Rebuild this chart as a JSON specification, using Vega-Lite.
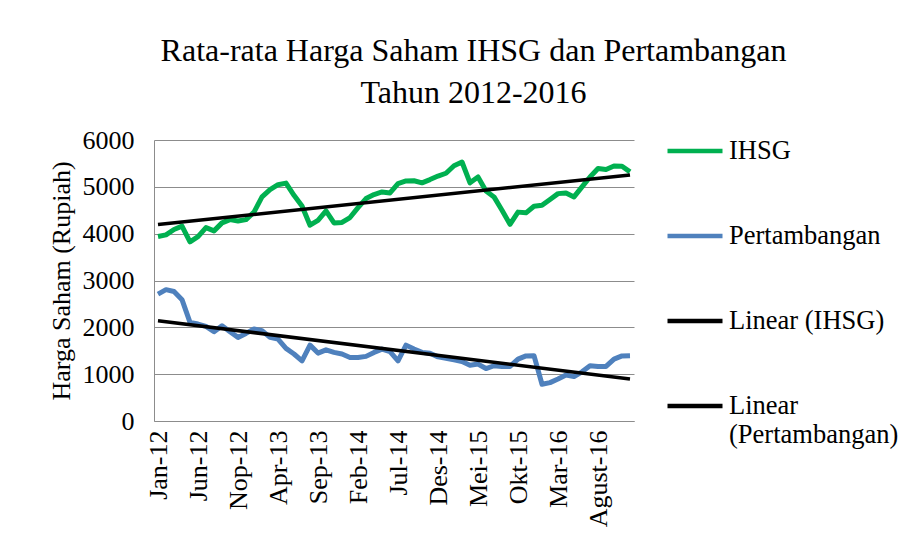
{
  "$schema": "https://vega.github.io/schema/vega-lite/v6.json",
  "width": 480,
  "height": 281,
  "padding": {"left": 47, "top": 35, "right": 5, "bottom": 5},
  "background": "white",
  "config": {"font": "Liberation Serif, Times New Roman, serif", "view": {"stroke": null}},
  "title": {
    "text": ["Rata-rata Harga Saham IHSG dan Pertambangan", "Tahun 2012-2016"],
    "fontSize": 32,
    "fontWeight": "normal",
    "font": "Liberation Serif, Times New Roman, serif",
    "color": "black",
    "anchor": "middle",
    "frame": "bounds",
    "lineHeight": 42,
    "offset": 11
  },
  "datasets": {
    "harga": [
      {"bulan": "Jan-12", "IHSG": 3940, "Pertambangan": 2710},
      {"bulan": "Feb-12", "IHSG": 3975, "Pertambangan": 2805},
      {"bulan": "Mar-12", "IHSG": 4090, "Pertambangan": 2765},
      {"bulan": "Apr-12", "IHSG": 4160, "Pertambangan": 2590},
      {"bulan": "Mei-12", "IHSG": 3825, "Pertambangan": 2105},
      {"bulan": "Jun-12", "IHSG": 3935, "Pertambangan": 2070},
      {"bulan": "Jul-12", "IHSG": 4130, "Pertambangan": 2020},
      {"bulan": "Agust-12", "IHSG": 4060, "Pertambangan": 1905},
      {"bulan": "Sep-12", "IHSG": 4230, "Pertambangan": 2035},
      {"bulan": "Okt-12", "IHSG": 4300, "Pertambangan": 1905},
      {"bulan": "Nop-12", "IHSG": 4270, "Pertambangan": 1785},
      {"bulan": "Des-12", "IHSG": 4300, "Pertambangan": 1870},
      {"bulan": "Jan-13", "IHSG": 4460, "Pertambangan": 1965},
      {"bulan": "Feb-13", "IHSG": 4785, "Pertambangan": 1930},
      {"bulan": "Mar-13", "IHSG": 4940, "Pertambangan": 1785},
      {"bulan": "Apr-13", "IHSG": 5045, "Pertambangan": 1750},
      {"bulan": "Mei-13", "IHSG": 5080, "Pertambangan": 1550},
      {"bulan": "Jun-13", "IHSG": 4820, "Pertambangan": 1430},
      {"bulan": "Jul-13", "IHSG": 4590, "Pertambangan": 1285},
      {"bulan": "Agust-13", "IHSG": 4180, "Pertambangan": 1620},
      {"bulan": "Sep-13", "IHSG": 4285, "Pertambangan": 1450},
      {"bulan": "Okt-13", "IHSG": 4485, "Pertambangan": 1520},
      {"bulan": "Nop-13", "IHSG": 4230, "Pertambangan": 1465},
      {"bulan": "Des-13", "IHSG": 4240, "Pertambangan": 1430},
      {"bulan": "Jan-14", "IHSG": 4345, "Pertambangan": 1355},
      {"bulan": "Feb-14", "IHSG": 4555, "Pertambangan": 1355},
      {"bulan": "Mar-14", "IHSG": 4750, "Pertambangan": 1380},
      {"bulan": "Apr-14", "IHSG": 4835, "Pertambangan": 1465},
      {"bulan": "Mei-14", "IHSG": 4890, "Pertambangan": 1535},
      {"bulan": "Jun-14", "IHSG": 4870, "Pertambangan": 1480},
      {"bulan": "Jul-14", "IHSG": 5070, "Pertambangan": 1285},
      {"bulan": "Agust-14", "IHSG": 5125, "Pertambangan": 1620},
      {"bulan": "Sep-14", "IHSG": 5130, "Pertambangan": 1535},
      {"bulan": "Okt-14", "IHSG": 5085, "Pertambangan": 1465},
      {"bulan": "Nop-14", "IHSG": 5155, "Pertambangan": 1445},
      {"bulan": "Des-14", "IHSG": 5230, "Pertambangan": 1370},
      {"bulan": "Jan-15", "IHSG": 5290, "Pertambangan": 1340},
      {"bulan": "Feb-15", "IHSG": 5450, "Pertambangan": 1305},
      {"bulan": "Mar-15", "IHSG": 5530, "Pertambangan": 1270},
      {"bulan": "Apr-15", "IHSG": 5085, "Pertambangan": 1190},
      {"bulan": "Mei-15", "IHSG": 5210, "Pertambangan": 1215},
      {"bulan": "Jun-15", "IHSG": 4910, "Pertambangan": 1120},
      {"bulan": "Jul-15", "IHSG": 4785, "Pertambangan": 1180},
      {"bulan": "Agust-15", "IHSG": 4500, "Pertambangan": 1165},
      {"bulan": "Sep-15", "IHSG": 4200, "Pertambangan": 1165},
      {"bulan": "Okt-15", "IHSG": 4460, "Pertambangan": 1320},
      {"bulan": "Nop-15", "IHSG": 4445, "Pertambangan": 1390},
      {"bulan": "Des-15", "IHSG": 4585, "Pertambangan": 1395},
      {"bulan": "Jan-16", "IHSG": 4605, "Pertambangan": 785},
      {"bulan": "Feb-16", "IHSG": 4730, "Pertambangan": 820},
      {"bulan": "Mar-16", "IHSG": 4855, "Pertambangan": 895},
      {"bulan": "Apr-16", "IHSG": 4870, "Pertambangan": 980},
      {"bulan": "Mei-16", "IHSG": 4785, "Pertambangan": 950},
      {"bulan": "Jun-16", "IHSG": 5000, "Pertambangan": 1050},
      {"bulan": "Jul-16", "IHSG": 5210, "Pertambangan": 1180},
      {"bulan": "Agust-16", "IHSG": 5390, "Pertambangan": 1165},
      {"bulan": "Sep-16", "IHSG": 5370, "Pertambangan": 1165},
      {"bulan": "Okt-16", "IHSG": 5445, "Pertambangan": 1320},
      {"bulan": "Nop-16", "IHSG": 5440, "Pertambangan": 1390},
      {"bulan": "Des-16", "IHSG": 5320, "Pertambangan": 1395}
    ],
    "tren": [
      {"bulan": "Jan-12", "series": "Linear (IHSG)", "value": 4195},
      {"bulan": "Des-16", "series": "Linear (IHSG)", "value": 5255},
      {"bulan": "Jan-12", "series": "Linear (Pertambangan)", "value": 2140},
      {"bulan": "Des-16", "series": "Linear (Pertambangan)", "value": 895}
    ]
  },
  "encoding": {
    "x": {
      "field": "bulan",
      "type": "ordinal",
      "sort": null,
      "scale": {
        "type": "point",
        "padding": 0.5,
        "domain": ["Jan-12","Feb-12","Mar-12","Apr-12","Mei-12","Jun-12","Jul-12","Agust-12","Sep-12","Okt-12","Nop-12","Des-12",
                   "Jan-13","Feb-13","Mar-13","Apr-13","Mei-13","Jun-13","Jul-13","Agust-13","Sep-13","Okt-13","Nop-13","Des-13",
                   "Jan-14","Feb-14","Mar-14","Apr-14","Mei-14","Jun-14","Jul-14","Agust-14","Sep-14","Okt-14","Nop-14","Des-14",
                   "Jan-15","Feb-15","Mar-15","Apr-15","Mei-15","Jun-15","Jul-15","Agust-15","Sep-15","Okt-15","Nop-15","Des-15",
                   "Jan-16","Feb-16","Mar-16","Apr-16","Mei-16","Jun-16","Jul-16","Agust-16","Sep-16","Okt-16","Nop-16","Des-16"]
      },
      "axis": {
        "title": null,
        "values": ["Jan-12","Jun-12","Nop-12","Apr-13","Sep-13","Feb-14","Jul-14","Des-14","Mei-15","Okt-15","Mar-16","Agust-16"],
        "labelAngle": -90,
        "labelFontSize": 26,
        "labelColor": "black",
        "labelPadding": 9,
        "ticks": false,
        "grid": false,
        "domainColor": "#8c8c8c",
        "labelFont": "Liberation Serif, Times New Roman, serif"
      }
    },
    "y": {
      "field": "value",
      "type": "quantitative",
      "scale": {"domain": [0, 6000], "nice": false},
      "axis": {
        "title": "Harga Saham (Rupiah)",
        "titleFontSize": 26,
        "titleFontWeight": "normal",
        "titleColor": "black",
        "titleFont": "Liberation Serif, Times New Roman, serif",
        "titlePadding": 8,
        "labelFontSize": 26,
        "labelColor": "black",
        "labelFont": "Liberation Serif, Times New Roman, serif",
        "labelPadding": 20,
        "format": "d",
        "ticks": false,
        "values": [0, 1000, 2000, 3000, 4000, 5000, 6000],
        "gridColor": "#8c8c8c",
        "domainColor": "#8c8c8c"
      }
    },
    "color": {
      "field": "series",
      "type": "nominal",
      "scale": {
        "domain": ["IHSG", "Pertambangan", "Linear (IHSG)", "Linear (Pertambangan)"],
        "range": ["#00B050", "#4F81BD", "#000000", "#000000"]
      },
      "legend": {
        "title": null,
        "orient": "none",
        "legendX": 511,
        "legendY": -19,
        "padding": 0,
        "symbolType": "stroke",
        "symbolSize": 3025,
        "symbolStrokeWidth": 4.7,
        "labelFontSize": 26.5,
        "labelFont": "Liberation Serif, Times New Roman, serif",
        "labelColor": "black",
        "labelLimit": 400,
        "labelOffset": 4,
        "rowPadding": 41,
        "labelExpr": "datum.label == 'Linear (Pertambangan)' ? ['Linear', '(Pertambangan)'] : datum.label"
      }
    }
  },
  "layer": [
    {
      "data": {"name": "harga"},
      "transform": [{"fold": ["IHSG", "Pertambangan"], "as": ["series", "value"]}],
      "mark": {"type": "line", "strokeWidth": 5, "strokeJoin": "round"}
    },
    {
      "data": {"name": "tren"},
      "mark": {"type": "line", "strokeWidth": 3.5}
    }
  ]
}
